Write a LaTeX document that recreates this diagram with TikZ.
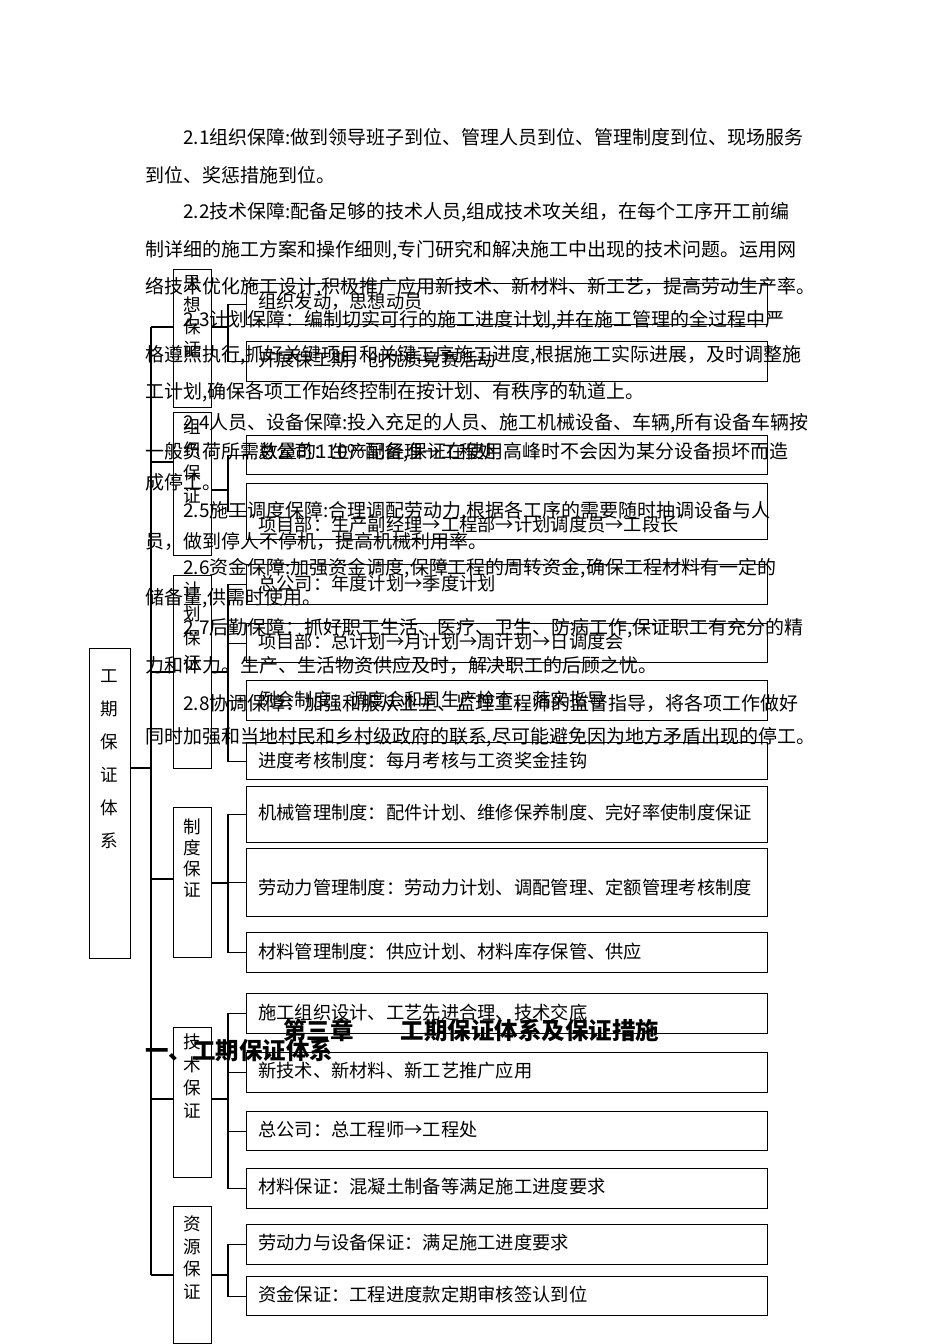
\documentclass[tikz,border=0pt]{standalone}
\usepackage{fontspec}
\setmainfont{Noto Sans CJK SC}
\tikzset{
  link/.style={line width=0.9pt},
  leafbox/.style={draw, line width=0.9pt, anchor=north west, minimum width=13.025cm, inner sep=0pt},
  catbox/.style={draw, line width=0.9pt, anchor=north west, minimum width=0.95cm, inner sep=0pt},
  leaftext/.style={anchor=west, inner sep=0pt, font=\fontsize{13}{15}\selectfont},
  bodytext/.style={anchor=west, inner sep=0pt, font=\fontsize{13.5}{16}\selectfont},
  headtext/.style={anchor=west, inner sep=0pt, font=\fontsize{16.7}{20}\selectfont\bfseries},
}
% leaf box: name, top, bottom, text y, text
\newcommand\leaf[5]{\node[leafbox, minimum height={(#3-#2)*0.025cm}] (#1) at (246,#2) {};
  \node[leaftext] (#1t) at (258,#4) {#5};}
% category box: name, top, bottom, first char y, line skip (pt), text
\newcommand\cat[6]{\node[catbox, minimum height={(#3-#2)*0.025cm}] (#1) at (173,#2) {};
  \node[align=center, inner sep=0pt, anchor=north, font=\fontsize{12.5}{#5}\selectfont] (#1t) at (192,#4-9) {#6};}

\begin{document}
\begin{tikzpicture}[x=0.025cm, y=-0.025cm]
  \fill[white] (0,0) rectangle (950,1344);
  \useasboundingbox (0,0) rectangle (950,1344);

  % running text of the page
  \node[bodytext] (b1) at (183,137) {2.1组织保障:做到领导班子到位、管理人员到位、管理制度到位、现场服务};
  \node[bodytext] (b2) at (145,175) {到位、奖惩措施到位。};
  \node[bodytext] (b3) at (183,212) {2.2技术保障:配备足够的技术人员,组成技术攻关组，在每个工序开工前编};
  \node[bodytext] (b4) at (145,250) {制详细的施工方案和操作细则,专门研究和解决施工中出现的技术问题。运用网};
  \node[bodytext] (b5) at (145,287) {络技术优化施工设计,积极推广应用新技术、新材料、新工艺，提高劳动生产率。};
  \node[bodytext] (b6) at (183,320) {2.3计划保障：编制切实可行的施工进度计划,并在施工管理的全过程中严};
  \node[bodytext] (b7) at (145,355) {格遵照执行,抓好关键项目和关键工序施工进度,根据施工实际进展，及时调整施};
  \node[bodytext] (b8) at (145,392) {工计划,确保各项工作始终控制在按计划、有秩序的轨道上。};
  \node[bodytext] (b9) at (183,423) {2.4人员、设备保障:投入充足的人员、施工机械设备、车辆,所有设备车辆按};
  \node[bodytext] (b10) at (145,452) {一般负荷所需数量的110\%配备,保证在使用高峰时不会因为某分设备损坏而造};
  \node[bodytext] (b11) at (145,482) {成停工。};
  \node[bodytext] (b12) at (183,511) {2.5施工调度保障:合理调配劳动力,根据各工序的需要随时抽调设备与人};
  \node[bodytext] (b13) at (145,541) {员，做到停人不停机，提高机械利用率。};
  \node[bodytext] (b14) at (183,568) {2.6资金保障:加强资金调度,保障工程的周转资金,确保工程材料有一定的};
  \node[bodytext] (b15) at (145,598) {储备量,供需时使用。};
  \node[bodytext] (b16) at (183,628) {2.7后勤保障：抓好职工生活、医疗、卫生、防病工作,保证职工有充分的精};
  \node[bodytext] (b17) at (145,665) {力和体力。生产、生活物资供应及时，解决职工的后顾之忧。};
  \node[bodytext] (b18) at (183,703) {2.8协调保障：加强和服从业主、监理工程师的监督指导，将各项工作做好};
  \node[bodytext] (b19) at (145,737) {同时加强和当地村民和乡村级政府的联系,尽可能避免因为地方矛盾出现的停工。};
  \node[headtext] (h1) at (283,1030) {第三章　　工期保证体系及保证措施};
  \node[headtext] (h2) at (145,1050) {一、工期保证体系};

  % tree
  \node[draw, line width=0.9pt, anchor=north west, minimum width=1.025cm, minimum height=7.75cm, inner sep=0pt] (main) at (89,648) {};
  \node[align=center, inner sep=0pt, anchor=north, font=\fontsize{12.5}{23.5}\selectfont] (maint) at (109.5,669) {工\\期\\保\\证\\体\\系};
  \cat{sx}{269}{407}{284}{15.6}{思\\想\\保\\证}
  \cat{zz}{412}{555}{427}{16.4}{组\\织\\保\\证}
  \cat{jh}{575}{768}{590}{17.4}{计\\划\\保\\证}
  \cat{zd}{807}{957}{828}{14.9}{制\\度\\保\\证}
  \cat{js}{1027}{1177}{1042}{16.4}{技\\术\\保\\证}
  \cat{zy}{1206}{1343}{1225}{16}{资\\源\\保\\证}

  \leaf{sx1}{283}{324}{302}{组织发动，思想动员}
  \leaf{sx2}{341}{381}{360}{开展保工期，创优质竞赛活动}
  \leaf{zz1}{435}{474}{452}{总公司：生产副经理→工程处}
  \leaf{zz2}{483}{539}{525}{项目部：生产副经理→工程部→计划调度员→工段长}
  \leaf{jh1}{564}{604}{583}{总公司：年度计划→季度计划}
  \leaf{jh2}{623}{662}{642}{项目部：总计划→月计划→周计划→日调度会}
  \leaf{jh3}{680}{720}{700}{例会制度：调度会和周生产检查、落实指导}
  \leaf{jh4}{742}{779}{760}{进度考核制度：每月考核与工资奖金挂钩}
  \leaf{zd1}{786}{842}{813}{机械管理制度：配件计划、维修保养制度、完好率使制度保证}
  \leaf{zd2}{848}{916}{888}{劳动力管理制度：劳动力计划、调配管理、定额管理考核制度}
  \leaf{zd3}{932}{972}{952}{材料管理制度：供应计划、材料库存保管、供应}
  \leaf{js1}{993}{1033}{1013}{施工组织设计、工艺先进合理、技术交底}
  \leaf{js2}{1052}{1092}{1071}{新技术、新材料、新工艺推广应用}
  \leaf{js3}{1111}{1150}{1130}{总公司：总工程师→工程处}
  \leaf{js4}{1168}{1208}{1187}{材料保证：混凝土制备等满足施工进度要求}
  \leaf{zy1}{1224}{1264}{1243}{劳动力与设备保证：满足施工进度要求}
  \leaf{zy2}{1276}{1315}{1294}{资金保证：工程进度款定期审核签认到位}

  \coordinate (trunk) at (151,327);
  \draw[link] (trunk) -- (151,1275);
  \draw[link] (main.east |- 0,768) -- (trunk |- 0,768);
  \foreach \c/\l/\r in {sx/327/327, zz/462/490, jh/672/672, zd/879/883, js/1099/1099, zy/1275/1275} {
    \draw[link] (trunk |- 0,\l) -- (\c.west |- 0,\l);
    \draw[link] (\c.east |- 0,\r) -- (228,\r);
  }
  \draw[link] (sx1.west) -- ++(-18,0) |- (sx2.west);
  \draw[link] (zz1.west) -- ++(-18,0) |- (zz2.west);
  \draw[link] (jh1.west) -- ++(-18,0) |- (jh4.west);
  \draw[link] (jh2.west) -- ++(-18,0); \draw[link] (jh3.west) -- ++(-18,0);
  \draw[link] (zd1.west) -- ++(-18,0) |- (zd3.west);
  \draw[link] (zd2.west) -- ++(-18,0);
  \draw[link] (js1.west) -- ++(-18,0) |- (js4.west);
  \draw[link] (js2.west) -- ++(-18,0); \draw[link] (js3.west) -- ++(-18,0);
  \draw[link] (zy1.west) -- ++(-18,0) |- (zy2.west);
\end{tikzpicture}
\end{document}
